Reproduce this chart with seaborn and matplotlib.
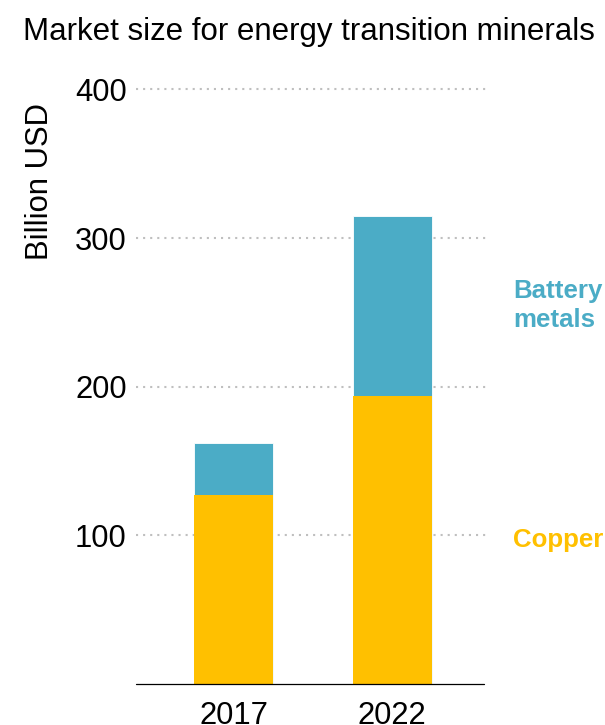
import matplotlib
matplotlib.use("Agg")
import matplotlib.pyplot as plt
import seaborn as sns
import pandas as pd

# Market size by year, billion USD
years = ["2017", "2022"]
copper = [127, 194]
battery_metals = [35, 121]
y_ticks = [100, 200, 300, 400]

COPPER_COLOR = "#FFC000"
BATTERY_COLOR = "#4BACC6"

sns.set_style("white")
plt.rcParams["font.family"] = ["Liberation Sans", "DejaVu Sans"]

df = pd.DataFrame({"year": years, "copper": copper, "battery": battery_metals})
df["total"] = df["copper"] + df["battery"]

fig = plt.figure(figsize=(6.05, 7.25), dpi=100)
ax = fig.add_axes([0.2248, 0.0564, 0.5851, 0.8204])

# stacked bars: full total in battery colour, copper drawn over the bottom part
sns.barplot(data=df, x="year", y="total", color=BATTERY_COLOR, saturation=1,
            width=0.5, edgecolor="white", linewidth=0.6, ax=ax, zorder=3)
sns.barplot(data=df, x="year", y="copper", color=COPPER_COLOR, saturation=1,
            width=0.5, edgecolor="white", linewidth=0.0, ax=ax, zorder=4)

ax.set_xlim(-0.62, 1.62)
ax.set_ylim(0, 400)

for v in y_ticks:
    ax.axhline(v, color="#BFBFBF", lw=1.5, ls=(0, (1, 2.4)), zorder=1, clip_on=False)
ax.axhline(0, xmin=0, xmax=0.983, color="black", lw=0.9, zorder=5, clip_on=False)

for s in ax.spines.values():
    s.set_visible(False)

ax.set_yticks(y_ticks)
ax.set_yticklabels([str(v) for v in y_ticks])
ax.tick_params(axis="y", length=0, pad=6.7, labelsize=22.3, colors="black")
ax.tick_params(axis="x", length=0, pad=12.3, labelsize=22.3, colors="black")
ax.set_xlabel("")
ax.set_ylabel("")

# series labels next to the 2022 bar
label_x = 1.766
ax.text(label_x, copper[1] + battery_metals[1] / 2, "Battery\nmetals",
        color=BATTERY_COLOR, fontsize=18.6, fontweight="bold",
        ha="left", va="center", linespacing=1.25, clip_on=False)
ax.text(label_x, copper[1] / 2, "Copper",
        color=COPPER_COLOR, fontsize=18.6, fontweight="bold",
        ha="left", va="center", clip_on=False)

fig.text(309 / 605, (725 - 40) / 725, "Market size for energy transition minerals",
         fontsize=22.5, ha="center", va="baseline", color="black")
fig.text(55 / 605, (725 - 181.5) / 725, "Billion USD", rotation=90,
         fontsize=22.3, ha="right", va="center", color="black")

fig.savefig("out.png", dpi=100)
